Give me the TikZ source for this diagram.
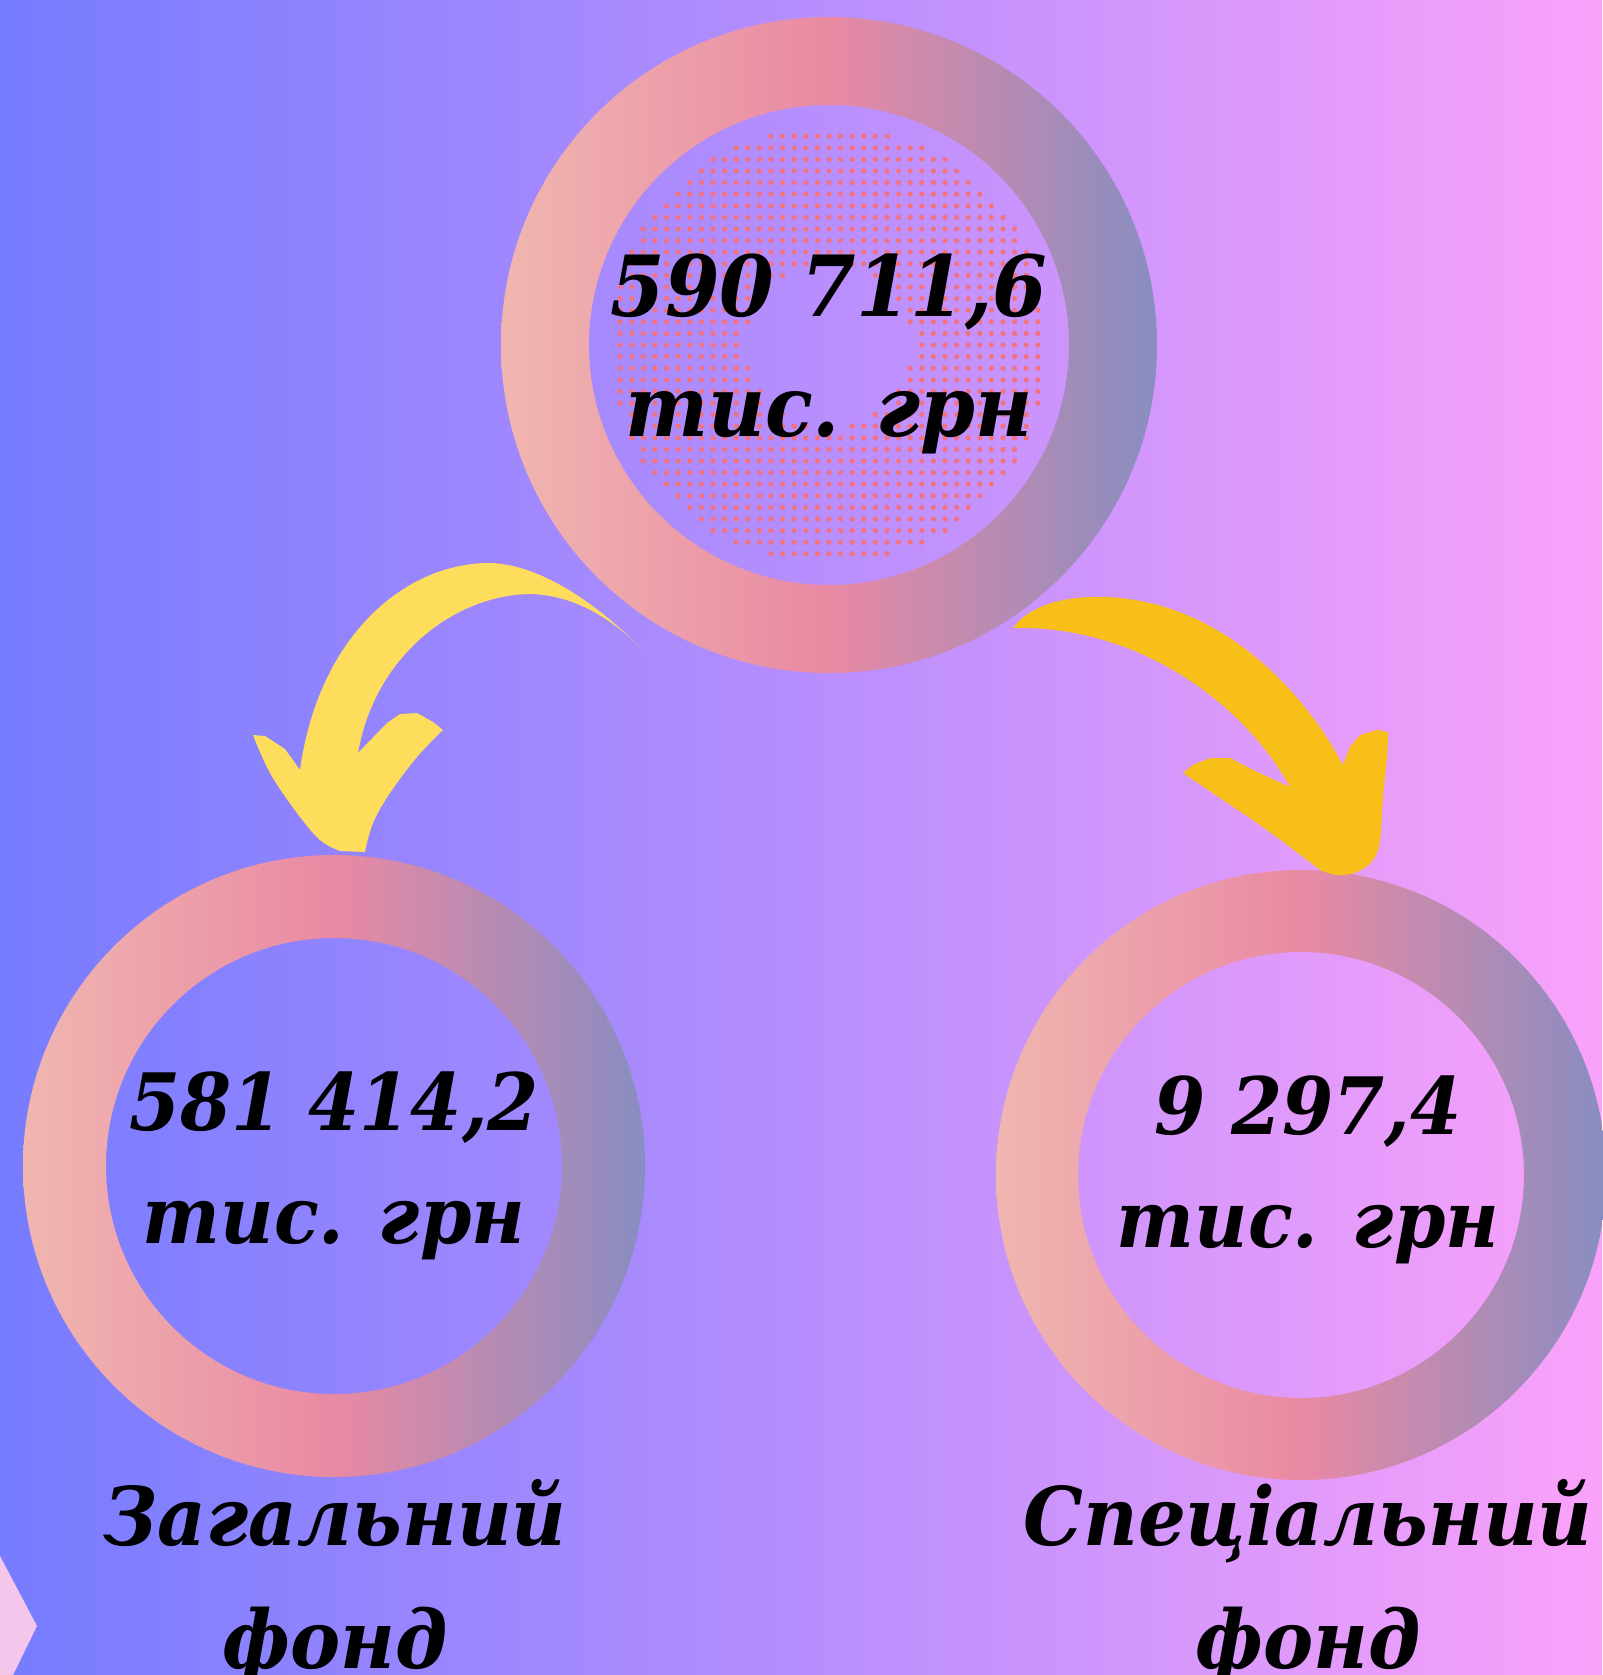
\documentclass[tikz,border=0pt]{standalone}
\usepackage{fontspec}
\setmainfont{DejaVu Serif}[FakeStretch=0.93]
\definecolor{bgl}{RGB}{118,124,255}
\definecolor{bgm}{RGB}{182,142,253}
\definecolor{bgr}{RGB}{250,162,250}
\definecolor{ringl}{RGB}{240,182,176}
\definecolor{ringm}{RGB}{233,137,163}
\definecolor{ringr}{RGB}{136,141,193}
\definecolor{dotc}{RGB}{242,114,128}
\definecolor{yell}{RGB}{254,220,92}
\definecolor{gold}{RGB}{248,191,24}
\definecolor{rhomb}{RGB}{245,198,235}
\tikzset{
  ring/.style={even odd rule,left color=ringl,right color=ringr,middle color=ringm},
  total/.style={font=\fontsize{24}{34}\selectfont\bfseries\itshape,align=center},
  sum/.style={font=\fontsize{22.5}{32}\selectfont\bfseries\itshape,align=center},
  fund/.style={font=\fontsize{23}{35}\selectfont\bfseries\itshape,align=center},
}
\begin{document}
\begin{tikzpicture}[x=0.01cm,y=-0.01cm]
\shade[left color=bgl,right color=bgr,middle color=bgm](0,0)rectangle(1602,1675);
\useasboundingbox(0,0)rectangle(1602,1675);
\fill[rhomb](0,1556)--(37,1626)--(13,1675)--(0,1675)--cycle;

\coordinate(ctop)at(829,345);
\coordinate(cleft)at(334,1166);
\coordinate(cright)at(1301,1175);
\shade[ring](ctop)circle[radius=328]circle[radius=240];
\shade[ring](cleft)circle[radius=311]circle[radius=228];
\shade[ring](cright)circle[radius=305]circle[radius=223];

\foreach \i in {-19,...,19}
  \foreach \j in {-19,...,19}{
    \pgfmathsetmacro\rr{veclen(\i,\j)}
    \ifdim\rr pt>7.2pt\ifdim\rr pt<18.95pt
      \fill[dotc](829+\i*11.6,345+\j*11.6)circle[radius=2.6];
    \fi\fi}

\fill[yell](643,650)..controls(585,592)and(530,562)..(485,563)
  ..controls(400,566)and(318,640)..(300,770)
  --(285,749)--(265,736)--(253,735)
  --plot[smooth,tension=.6]coordinates{(253,735)(270,773)(297,813)(320,840)(340,851)}
  --(365,852)
  --plot[smooth,tension=.6]coordinates{(365,852)(373,823)(390,793)(417,757)(443,730)}
  --(433,722)--(417,713)--(400,714)--(387,723)--(358,753)
  ..controls(375,655)and(455,595)..(530,594)
  ..controls(580,595)and(618,625)..(643,650)
  --cycle;
\fill[gold](1013,628)..controls(1035,597)and(1095,590)..(1150,603)
  ..controls(1230,622)and(1300,685)..(1343,765)
  --(1350,747)--(1360,735)--(1377,730)--(1388,732)
  --plot[smooth,tension=.6]coordinates{(1388,732)(1387,757)(1383,797)(1380,840)(1373,860)(1357,872)(1337,875)(1320,870)}
  --plot[smooth,tension=.6]coordinates{(1320,870)(1290,847)(1257,823)(1223,800)(1183,773)}
  --(1193,765)--(1210,758)--(1230,758)--(1257,772)--(1290,787)
  ..controls(1245,705)and(1140,625)..(1013,628)
  --cycle;

\node[total](all)at(829,354){590 711,6\\тис. грн};
\node[sum](general)at(334,1166){581 414,2\\тис. грн};
\node[sum](special)at(1308,1170){9 297,4\\тис. грн};
\node[fund](genlab)at(335,1582){Загальний\\фонд};
\node[fund](speclab)at(1308,1582){Спеціальний\\фонд};
\end{tikzpicture}
\end{document}
